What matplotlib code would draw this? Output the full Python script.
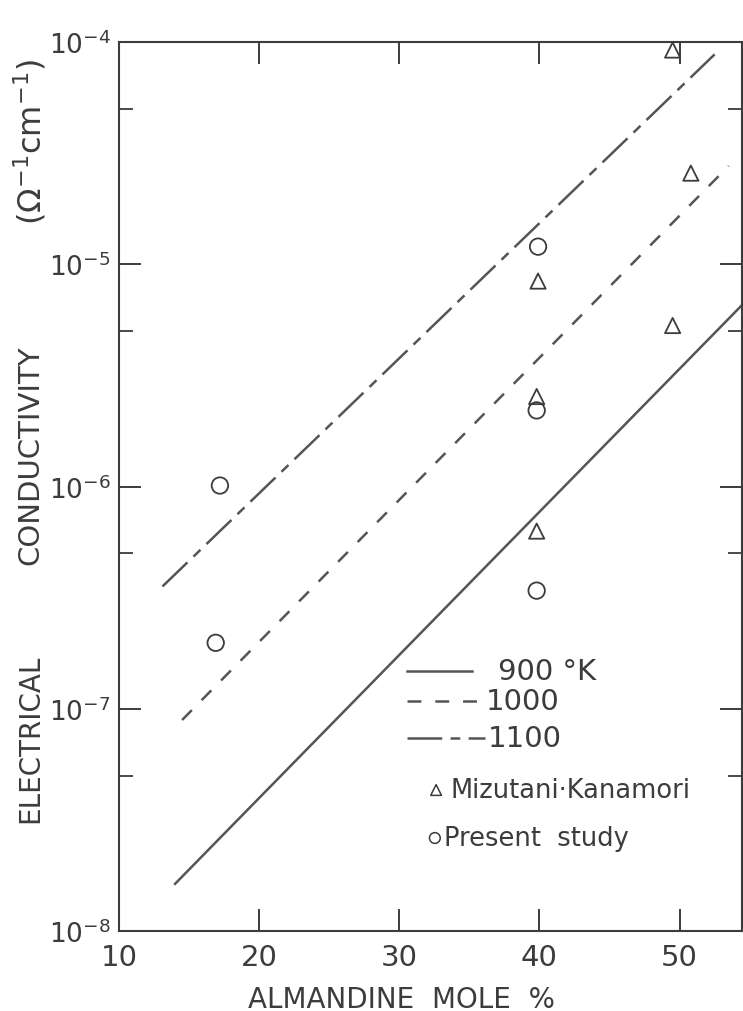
import numpy as np
import matplotlib
matplotlib.use("Agg")
import matplotlib.pyplot as plt
from matplotlib.ticker import FixedLocator, NullFormatter

plt.rcParams['font.family'] = ['DejaVu Sans']
plt.rcParams['lines.scale_dashes'] = False

INK = '#3c3c3c'

# Fitted lines (end points)
line_x_900 = [14.0, 54.5]
line_y_900 = [1.63e-8, 6.6e-6]
line_x_1000 = [14.5, 53.5]
line_y_1000 = [8.9e-8, 2.77e-5]
line_x_1100 = [13.1, 52.5]
line_y_1100 = [3.55e-7, 8.8e-5]

# Mizutani-Kanamori (triangles)
mk_x = [49.5, 50.8, 39.9, 49.5, 39.8, 39.8]
mk_y = [9.2e-5, 2.57e-5, 8.4e-6, 5.3e-6, 2.54e-6, 6.3e-7]

# Present study (circles)
ps_x = [17.2, 16.9, 39.9, 39.8, 39.8]
ps_y = [1.01e-6, 1.98e-7, 1.2e-5, 2.2e-6, 3.4e-7]

xticks = [10, 20, 30, 40, 50]
yticks = [1e-8, 1e-7, 1e-6, 1e-5, 1e-4]
yminor = [5e-8, 5e-7, 5e-6, 5e-5]

style_900 = '-'
style_1000 = (0, (10, 10))
style_1100 = (0, (25, 6, 7, 6))

fig = plt.figure(figsize=(7.43, 10.12), dpi=100)
ax = fig.add_axes([119 / 743, 80 / 1012, 623 / 743, 889 / 1012])

ax.plot(line_x_900, line_y_900, linestyle=style_900, color='#555555', lw=1.8)
ax.plot(line_x_1000, line_y_1000, linestyle=style_1000, color='#555555', lw=1.8)
ax.plot(line_x_1100, line_y_1100, linestyle=style_1100, color='#555555', lw=1.8)

ax.scatter(mk_x, mk_y, marker='^', s=120, facecolors='none', edgecolors=INK, linewidths=1.3, zorder=5)
ax.scatter(ps_x, ps_y, marker='o', s=140, facecolors='none', edgecolors=INK, linewidths=1.3, zorder=5)

ax.set_yscale('log')
ax.set_xlim(10, 54.45)
ax.set_ylim(1e-8, 1e-4)

ax.xaxis.set_major_locator(FixedLocator(xticks))
ax.set_xticklabels([str(v) for v in xticks])
ax.yaxis.set_major_locator(FixedLocator(yticks))
ax.yaxis.set_minor_locator(FixedLocator(yminor))
ax.yaxis.set_minor_formatter(NullFormatter())
ax.set_yticklabels([r'$10^{-%d}$' % (-int(np.log10(v))) for v in yticks])

ax.tick_params(which='major', direction='in', length=16, width=1.4, color=INK,
               top=True, right=True, labelcolor=INK)
ax.tick_params(which='minor', direction='in', length=10, width=1.3, color=INK,
               right=True, left=True)
ax.tick_params(axis='x', which='major', labelsize=21, pad=9)
ax.tick_params(axis='y', which='major', labelsize=19, pad=6)
for sp in ax.spines.values():
    sp.set_linewidth(1.5)
    sp.set_color(INK)

# axis titles placed like the original lettering
fig.text(401 / 743, 1 - 1000 / 1012, 'ALMANDINE  MOLE  %', ha='center', va='center',
         fontsize=20, color=INK)
ylab_parts = [('ELECTRICAL', 739, 20), ('CONDUCTIVITY', 455, 21),
              (r'$(\Omega^{-1}\mathrm{cm}^{-1})$', 142, 23)]
for txt, ypx, fs in ylab_parts:
    fig.text(30 / 743, 1 - ypx / 1012, txt, rotation=90, ha='center', va='center',
             fontsize=fs, color=INK)

# legend drawn by hand
t = ax.transAxes
ax.plot([0.462, 0.567], [0.2925, 0.2925], linestyle=style_900, color='#555555', lw=1.8, transform=t)
ax.text(0.608, 0.2925, '900 °K', fontsize=21, color=INK, va='center', transform=t)
ax.plot([0.462, 0.579], [0.2587, 0.2587], linestyle=style_1000, color='#555555', lw=1.8, transform=t)
ax.text(0.588, 0.2587, '1000', fontsize=21, color=INK, va='center', transform=t)
ax.plot([0.462, 0.587], [0.2171, 0.2171], linestyle=style_1100, color='#555555', lw=1.8, transform=t)
ax.text(0.592, 0.2171, '1100', fontsize=21, color=INK, va='center', transform=t)
ax.scatter([0.509], [0.1586], marker='^', s=60, facecolors='none', edgecolors=INK, linewidths=1.1, transform=t)
ax.text(0.532, 0.1586, 'Mizutani·Kanamori', fontsize=18.5, color=INK, va='center', transform=t)
ax.scatter([0.507], [0.1046], marker='o', s=60, facecolors='none', edgecolors=INK, linewidths=1.1, transform=t)
ax.text(0.522, 0.1046, 'Present  study', fontsize=18.5, color=INK, va='center', transform=t)

fig.savefig('out.png', dpi=100)
